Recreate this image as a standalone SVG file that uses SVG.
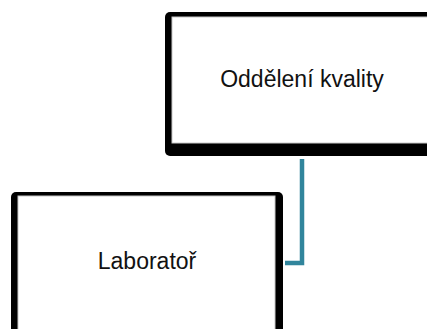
<svg xmlns="http://www.w3.org/2000/svg" width="427" height="329" viewBox="0 0 427 329">
<style>
.frame{fill:#000}
.inner{fill:#fff;stroke:#c8c8c8;stroke-width:1}
.lbl{font-family:"Liberation Sans",Arial,sans-serif;font-size:23px;fill:#111;text-anchor:middle}
.conn{fill:none;stroke:#31859c;stroke-width:4.5;stroke-linejoin:miter}
</style>
<rect width="427" height="329" fill="#fff"/>
<g id="connectors">
<path class="conn" d="M302 159 V263 H285"/>
</g>
<g id="node-kvalita">
<rect class="frame" x="165" y="12" width="280" height="144" rx="5"/>
<rect class="inner" x="172" y="17" width="270" height="126"/>
<text class="lbl" x="302" y="87">Oddělení kvality</text>
</g>
<g id="node-laborator">
<rect class="frame" x="11" y="192" width="272" height="150" rx="5"/>
<rect class="inner" x="18" y="196" width="257" height="150"/>
<text class="lbl" x="147" y="269">Laboratoř</text>
</g>
</svg>
